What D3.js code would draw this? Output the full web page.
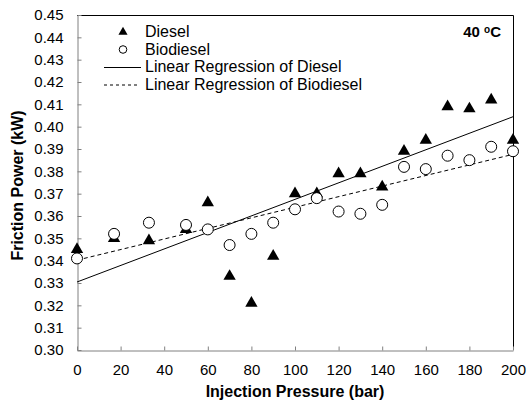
<!DOCTYPE html>
<html>
<head>
<meta charset="utf-8">
<script src="https://cdn.jsdelivr.net/npm/d3@7"></script>
<style>
  body { margin: 0; background: #fff; }
  text { font-family: Arial, "Liberation Sans", sans-serif; }
</style>
</head>
<body>
<svg id="chart" width="529" height="403"></svg>
<script>
// injection pressure (bar)
var pressure = [0, 17, 33, 50, 60, 70, 80, 90, 100, 110, 120, 130, 140, 150, 160, 170, 180, 190, 200];
// friction power (kW)
var diesel = [0.345, 0.350, 0.349, 0.354, 0.366, 0.333, 0.321, 0.342, 0.370, 0.370, 0.379, 0.379, 0.373, 0.389, 0.394, 0.409, 0.408, 0.412, 0.394];
var biodiesel = [0.341, 0.352, 0.357, 0.356, 0.354, 0.347, 0.352, 0.357, 0.363, 0.368, 0.362, 0.361, 0.365, 0.382, 0.381, 0.387, 0.385, 0.391, 0.389];
var xTicks = [0, 20, 40, 60, 80, 100, 120, 140, 160, 180, 200];
var yTicks = [0.30, 0.31, 0.32, 0.33, 0.34, 0.35, 0.36, 0.37, 0.38, 0.39, 0.40, 0.41, 0.42, 0.43, 0.44, 0.45];
var legendLabels = ["Diesel", "Biodiesel", "Linear Regression of Diesel", "Linear Regression of Biodiesel"];

var axisColour = '#808080';
var frameColour = '#000';

var plotLeft = 77, plotRight = 513, plotTop = 15, plotBottom = 350;

var svg = d3.select("#chart");
var x = d3.scaleLinear().domain([0, 200]).range([plotLeft, plotRight]);
var y = d3.scaleLinear().domain([0.30, 0.45]).range([plotBottom, plotTop]);

// least squares fit
function fit(xs, ys) {
  var mx = d3.mean(xs), my = d3.mean(ys);
  var sxy = 0, sxx = 0;
  for (var i = 0; i < xs.length; i++) {
    sxy += (xs[i] - mx) * (ys[i] - my);
    sxx += (xs[i] - mx) * (xs[i] - mx);
  }
  var b = sxy / sxx;
  return { a: my - b * mx, b: b };
}

// frame (top / right)
svg.append("path")
  .attr("d", "M" + plotLeft + "," + (plotTop + 0.5) + "H" + (plotRight + 0.5) + "V" + plotBottom)
  .attr("fill", "none")
  .attr("stroke", frameColour);

// axes, ticks pointing inward
var yAxis = svg.append("g")
  .attr("transform", "translate(" + (plotLeft + 0.5) + ",0)")
  .call(d3.axisLeft(y).tickValues(yTicks).tickFormat(d3.format(".2f")).tickSizeInner(-4).tickSizeOuter(0).tickPadding(14));
var xAxis = svg.append("g")
  .attr("transform", "translate(0," + (plotBottom + 0.5) + ")")
  .call(d3.axisBottom(x).tickValues(xTicks).tickSizeInner(-4).tickSizeOuter(0).tickPadding(14));

[yAxis, xAxis].forEach(function (g) {
  g.select(".domain").attr("stroke", axisColour);
  g.selectAll(".tick line").attr("stroke", axisColour);
  g.selectAll(".tick text")
    .attr("fill", "#000")
    .style("font-family", "Arial, 'Liberation Sans', sans-serif")
    .style("font-size", "15px");
});

// regression lines
var fd = fit(pressure, diesel), fb = fit(pressure, biodiesel);
var line = d3.line().x(function (d) { return x(d[0]); }).y(function (d) { return y(d[1]); });
svg.append("path")
  .attr("d", line([[0, fd.a], [200, fd.a + fd.b * 200]]))
  .attr("fill", "none").attr("stroke", "#000").attr("stroke-width", 1);
svg.append("path")
  .attr("d", line([[0, fb.a], [200, fb.a + fb.b * 200]]))
  .attr("fill", "none").attr("stroke", "#000").attr("stroke-width", 1)
  .attr("stroke-dasharray", "4,3");

var tri = d3.symbol().type(d3.symbolTriangle).size(66);
var triSmall = d3.symbol().type(d3.symbolTriangle).size(36);

svg.selectAll("path.diesel")
  .data(pressure)
  .enter().append("path")
  .attr("class", "diesel")
  .attr("d", tri)
  .attr("transform", function (d, i) { return "translate(" + x(d) + "," + y(diesel[i]) + ")"; })
  .attr("fill", "#000");

svg.selectAll("circle.bio")
  .data(pressure)
  .enter().append("circle")
  .attr("class", "bio")
  .attr("cx", function (d) { return x(d); })
  .attr("cy", function (d, i) { return y(biodiesel[i]); })
  .attr("r", 5.5)
  .attr("fill", "#fff")
  .attr("stroke", "#000")
  .attr("stroke-width", 1);

// legend
var lgX = 123, lgText = 145, lgY0 = 32, lgStep = 17.5;
svg.append("path")
  .attr("d", triSmall)
  .attr("transform", "translate(" + lgX + "," + lgY0 + ")")
  .attr("fill", "#000");
svg.append("circle")
  .attr("cx", lgX).attr("cy", lgY0 + lgStep).attr("r", 3.8)
  .attr("fill", "#fff").attr("stroke", "#000");
svg.append("line")
  .attr("x1", 104).attr("x2", 141)
  .attr("y1", lgY0 + 2 * lgStep + 0.5).attr("y2", lgY0 + 2 * lgStep + 0.5)
  .attr("stroke", "#000");
svg.append("line")
  .attr("x1", 104).attr("x2", 140)
  .attr("y1", lgY0 + 3 * lgStep + 0.5).attr("y2", lgY0 + 3 * lgStep + 0.5)
  .attr("stroke", "#000").attr("stroke-dasharray", "3,3");
svg.selectAll("text.legend")
  .data(legendLabels)
  .enter().append("text")
  .attr("class", "legend")
  .attr("x", lgText)
  .attr("y", function (d, i) { return lgY0 + i * lgStep + 5; })
  .attr("font-size", 16)
  .text(function (d) { return d; });

// temperature label
var temp = svg.append("text")
  .attr("x", 501).attr("y", 37)
  .attr("text-anchor", "end")
  .attr("font-size", 15).attr("font-weight", "bold");
temp.append("tspan").text("40 ");
temp.append("tspan").attr("font-size", 10).attr("dy", -4).text("o");
temp.append("tspan").attr("dy", 4).text("C");

// axis titles
svg.append("text")
  .attr("x", (plotLeft + plotRight) / 2).attr("y", 397)
  .attr("text-anchor", "middle")
  .attr("font-size", 16).attr("font-weight", "bold")
  .text("Injection Pressure (bar)");
svg.append("text")
  .attr("transform", "translate(23," + ((plotTop + plotBottom) / 2 + 3) + ") rotate(-90)")
  .attr("text-anchor", "middle")
  .attr("font-size", 16).attr("font-weight", "bold")
  .text("Friction Power (kW)");
</script>
</body>
</html>
